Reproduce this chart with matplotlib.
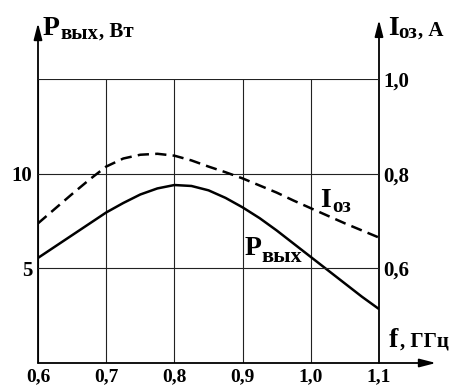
import matplotlib
matplotlib.use("Agg")
import matplotlib.pyplot as plt

# frequency, GHz
freq = [0.6, 0.625, 0.65, 0.675, 0.7, 0.725, 0.75, 0.775, 0.8, 0.825, 0.85,
        0.875, 0.9, 0.925, 0.95, 0.975, 1.0, 1.025, 1.05, 1.075, 1.1]
# output power, W (left axis)
p_out = [5.55, 6.15, 6.75, 7.35, 7.95, 8.45, 8.9, 9.22, 9.4, 9.35, 9.12,
         8.72, 8.22, 7.65, 7.0, 6.3, 5.6, 4.9, 4.2, 3.5, 2.85]
# current, A (right axis)
i_oz = [0.695, 0.726, 0.757, 0.787, 0.815, 0.832, 0.840, 0.842, 0.838, 0.828, 0.815,
        0.803, 0.790, 0.775, 0.760, 0.743, 0.727, 0.711, 0.695, 0.680, 0.665]

x_ticks = [0.6, 0.7, 0.8, 0.9, 1.0, 1.1]
x_labels = ["0,6", "0,7", "0,8", "0,9", "1,0", "1,1"]
p_ticks = [5, 10, 15]
p_labels = ["5", "10", ""]
i_ticks = [0.6, 0.8, 1.0]
i_labels = ["0,6", "0,8", "1,0"]

W, H = 452, 389
plt.rcParams["font.family"] = ["Liberation Serif", "DejaVu Serif"]
plt.rcParams["font.weight"] = "bold"

fig = plt.figure(figsize=(W / 100, H / 100), dpi=100)
ax = fig.add_axes([38 / W, 1 - 363 / H, 341 / W, 284 / H])
ax2 = ax.twinx()

ax.set_xlim(0.6, 1.1)
ax.set_ylim(0, 15)
ax2.set_ylim(0.4, 1.0)

ax.plot(freq, p_out, color="black", lw=1.8, solid_capstyle="butt")
ax2.plot(freq, i_oz, color="black", lw=1.8, dashes=(4.5, 2.5))

ax.set_xticks(x_ticks, x_labels)
ax.set_yticks(p_ticks, p_labels)
ax2.set_yticks(i_ticks, i_labels)
ax.tick_params(axis="x", length=0, pad=4, labelsize=14)
ax.tick_params(axis="y", length=0, pad=4, labelsize=15)
ax2.tick_params(axis="y", length=0, pad=3, labelsize=15)

ax.grid(axis="x", color="#222222", lw=0.8)
ax2.grid(axis="y", color="#222222", lw=0.8)
for a in (ax, ax2):
    for s in a.spines.values():
        s.set_visible(False)

arrow = dict(arrowstyle="-|>,head_length=0.7,head_width=0.18", color="black",
             lw=1.3, mutation_scale=14, shrinkA=0, shrinkB=0)
ax.annotate("", xy=(0, 1.197), xytext=(0, 0), xycoords="axes fraction",
            textcoords="axes fraction", arrowprops=arrow)
ax.annotate("", xy=(1, 1.208), xytext=(1, 0), xycoords="axes fraction",
            textcoords="axes fraction", arrowprops=arrow)
ax.annotate("", xy=(1.167, 0), xytext=(0, 0), xycoords="axes fraction",
            textcoords="axes fraction", arrowprops=arrow)


def px_text(x, y, s, size):
    # place text by pixel position (x from left, baseline y from top)
    fig.text(x / W, 1 - y / H, s, fontsize=size, ha="left", va="baseline")


# axis titles
px_text(43, 35, "P", 20)
px_text(60, 39, "вых", 15)
px_text(99, 37, ", Вт", 15)
px_text(388, 35, "I", 20)
px_text(398, 38, "оз", 15)
px_text(418, 36, ", А", 15)
px_text(389, 347, "f", 20)
px_text(400, 347, ", ГГц", 15)

# curve labels
px_text(320, 207, "I", 20)
px_text(332, 212, "оз", 15)
px_text(245, 255, "P", 20)
px_text(261, 262, "вых", 16)

fig.savefig("out.png", dpi=100)
